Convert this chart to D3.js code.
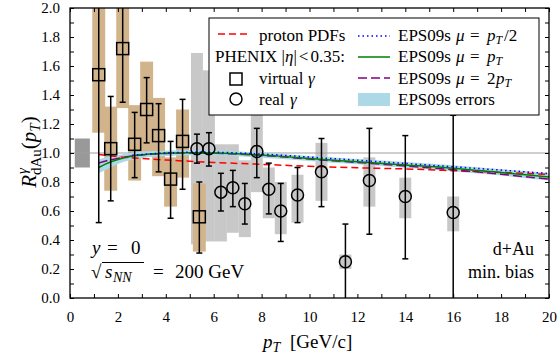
<!DOCTYPE html>
<html><head><meta charset="utf-8">
<script src="https://cdn.jsdelivr.net/npm/d3@7"></script>
<style>body{margin:0;background:#fff}svg{display:block}svg text{font-family:"Liberation Serif","Times New Roman",Times,serif !important;fill:#000}</style>
</head><body>
<svg id="c" width="558" height="354" font-family="Liberation Serif"></svg>
<script>
// ---- data ----
const virtualPt = [1.2,1.7,2.2,2.7,3.2,3.7,4.2,4.7,5.4];
const virtualR = [1.54,1.03,1.72,1.06,1.30,1.12,0.82,1.08,0.56];
const virtualStatLo = [0.52,0.67,1.35,0.83,1.07,0.87,0.55,0.75,0.31];
const virtualStatHi = [2.3,1.39,2.3,1.28,1.52,1.34,1.08,1.37,0.80];
const virtualSysLo = [1.14,0.74,1.31,0.81,0.98,0.84,0.63,0.83,0.32];
const virtualSysHi = [2.05,1.32,2.05,1.33,1.63,1.38,0.97,1.30,0.79];

const realPt = [5.3,5.8,6.3,6.8,7.3,7.8,8.3,8.8,9.5,10.5,11.5,12.5,14,16];
const realR = [1.03,1.03,0.73,0.76,0.65,1.01,0.75,0.60,0.71,0.87,0.25,0.81,0.70,0.59];
const realStatLo = [0.93,0.91,0.60,0.63,0.51,0.83,0.58,0.39,0.52,0.63,-0.2,0.44,0.27,-0.2];
const realStatHi = [1.13,1.14,0.86,0.88,0.79,1.17,0.93,0.79,0.90,1.10,0.51,1.17,1.12,1.26];
const realSysLo = [0.37,0.39,0.39,0.45,0.42,0.73,0.55,0.44,0.52,0.67,0.20,0.63,0.55,0.46];
const realSysHi = [1.69,1.57,1.06,1.06,0.95,1.40,0.90,0.80,0.85,1.07,0.30,0.97,0.83,0.70];

const normBox = {ptLo:0.2, ptHi:0.83, lo:0.90, hi:1.10};

const protonPt = [1.2,2,3,4,5,6,8,10,12,14,16,18,20];
const protonR  = [0.99,0.975,0.962,0.952,0.943,0.935,0.922,0.908,0.898,0.89,0.878,0.866,0.852];

const eps1Pt = [1.2,1.5,2,2.5,3,4,5,6,7,8,9,10,12,14,16,18,20];
const eps1R  = [0.90,0.925,0.955,0.975,0.988,0.998,1.002,1.0,0.995,0.985,0.975,0.962,0.94,0.918,0.895,0.865,0.835];
const eps2R  = [0.93,0.945,0.963,0.977,0.987,0.997,1.0,0.998,0.993,0.983,0.972,0.958,0.935,0.91,0.885,0.853,0.82];

const epsHalfPt = [2.6,3,4,5,6,7,8,9,10,12,14,16,18,20];
const epsHalfR  = [0.985,0.99,1.0,1.005,1.005,1.0,0.993,0.983,0.972,0.95,0.928,0.905,0.882,0.858];

const bandPt = [1.2,1.5,2,3,4,5,6,8,10,12,14,16,18,20];
const bandLo = [0.86,0.885,0.925,0.965,0.98,0.985,0.985,0.968,0.945,0.922,0.898,0.873,0.845,0.81];
const bandHi = [0.955,0.97,0.985,1.01,1.015,1.02,1.018,1.002,0.98,0.958,0.938,0.915,0.888,0.862];

const xTickLabels = [0,2,4,6,8,10,12,14,16,18,20];
const yTickLabels = ["0.0","0.2","0.4","0.6","0.8","1.0","1.2","1.4","1.6","1.8","2.0"];

// ---- layout ----
const svg = d3.select("#c");
const L=70, R=549, T=8, B=298;
const x = d3.scaleLinear().domain([0,20]).range([L,R]);
const y = d3.scaleLinear().domain([0,2]).range([B,T]);

svg.append("defs").append("clipPath").attr("id","clip")
  .append("rect").attr("x",L).attr("y",T).attr("width",R-L).attr("height",B-T);
const g = svg.append("g").attr("clip-path","url(#clip)");

g.append("rect").attr("x",x(normBox.ptLo)).attr("width",x(normBox.ptHi)-x(normBox.ptLo))
  .attr("y",y(normBox.hi)).attr("height",y(normBox.lo)-y(normBox.hi)).attr("fill","#999");

realPt.forEach((p,i)=>{
  g.append("rect").attr("x",x(p-0.25)).attr("width",x(p+0.25)-x(p-0.25))
   .attr("y",y(realSysHi[i])).attr("height",y(realSysLo[i])-y(realSysHi[i])).attr("fill","#c8c8c8");
});
virtualPt.forEach((p,i)=>{
  g.append("rect").attr("x",x(p-0.27)).attr("width",x(p+0.27)-x(p-0.27))
   .attr("y",y(virtualSysHi[i])).attr("height",y(virtualSysLo[i])-y(virtualSysHi[i])).attr("fill","#d2b48c");
});

g.append("line").attr("x1",x(0)).attr("x2",x(20)).attr("y1",y(1)).attr("y2",y(1)).attr("stroke","#a0a0a0").attr("stroke-width",1.2);

const area = d3.area().x((d,i)=>x(bandPt[i])).y0((d,i)=>y(bandLo[i])).y1((d,i)=>y(bandHi[i])).curve(d3.curveMonotoneX);
g.append("path").attr("d",area(bandPt)).attr("fill","#add8e6");

const line = (pts,vals)=>d3.line().x((d,i)=>x(pts[i])).y((d,i)=>y(vals[i])).curve(d3.curveMonotoneX)(pts);
g.append("path").attr("d",line(protonPt,protonR)).attr("fill","none").attr("stroke","#ff0000").attr("stroke-width",1.5).attr("stroke-dasharray","7,4");
g.append("path").attr("d",line(eps1Pt,eps2R)).attr("fill","none").attr("stroke","#800080").attr("stroke-width",1.5).attr("stroke-dasharray","9,4");
g.append("path").attr("d",line(eps1Pt,eps1R)).attr("fill","none").attr("stroke","#008000").attr("stroke-width",1.5);
g.append("path").attr("d",line(epsHalfPt,epsHalfR)).attr("fill","none").attr("stroke","#0000ff").attr("stroke-width",1.5).attr("stroke-dasharray","1.5,3");

function errBars(pts,lo,hi){
  pts.forEach((p,i)=>{
    g.append("line").attr("x1",x(p)).attr("x2",x(p)).attr("y1",y(lo[i])).attr("y2",y(hi[i])).attr("stroke","#000").attr("stroke-width",1.5);
    [lo[i],hi[i]].forEach(v=>g.append("line").attr("x1",x(p)-3).attr("x2",x(p)+3).attr("y1",y(v)).attr("y2",y(v)).attr("stroke","#000").attr("stroke-width",1.5));
  });
}
errBars(virtualPt,virtualStatLo,virtualStatHi);
errBars(realPt,realStatLo,realStatHi);
virtualPt.forEach((p,i)=>{
  g.append("rect").attr("x",x(p)-6).attr("y",y(virtualR[i])-6).attr("width",12).attr("height",12)
   .attr("fill","none").attr("stroke","#000").attr("stroke-width",1.5);
});
realPt.forEach((p,i)=>{
  g.append("circle").attr("cx",x(p)).attr("cy",y(realR[i])).attr("r",6)
   .attr("fill","none").attr("stroke","#000").attr("stroke-width",1.5);
});

// axes
const xAxB = d3.axisBottom(x).tickValues(d3.range(0,21,1)).tickSize(-4).tickFormat(d=>xTickLabels.includes(d)?d:"").tickPadding(13);
const xAxT = d3.axisTop(x).tickValues(d3.range(0,21,1)).tickSize(-4).tickFormat("");
const yAxL = d3.axisLeft(y).tickValues(d3.range(0,2.01,0.1)).tickSize(-4).tickFormat(d=>{const k=Math.round(d*10);return k%2===0?yTickLabels[k/2]:"";}).tickPadding(10);
const yAxR = d3.axisRight(y).tickValues(d3.range(0,2.01,0.1)).tickSize(-4).tickFormat("");
function style(sel){sel.attr("font-family","Liberation Serif");sel.select(".domain").remove();sel.selectAll("line").attr("stroke","#000").attr("stroke-width",1);sel.selectAll("text").style("font-size","15px");}
svg.append("g").attr("transform",`translate(0,${B})`).call(xAxB).call(style);
svg.append("g").attr("transform",`translate(0,${T})`).call(xAxT).call(style);
svg.append("g").attr("transform",`translate(${L},0)`).call(yAxL).call(style);
svg.append("g").attr("transform",`translate(${R},0)`).call(yAxR).call(style);
svg.append("rect").attr("x",L).attr("y",T).attr("width",R-L).attr("height",B-T).attr("fill","none").attr("stroke","#000").attr("stroke-width",1.3);

// axis titles
const xt = svg.append("text").attr("y",348).style("font-size","19px");
xt.append("tspan").attr("x",263).attr("font-style","italic").text("p");
xt.append("tspan").attr("font-style","italic").attr("font-size","14px").attr("dy",4).text("T");
xt.append("tspan").attr("x",290).attr("dy",-4).text("[GeV/c]");

const yt = svg.append("text").attr("transform","translate(36,152) rotate(-90)").attr("text-anchor","middle").style("font-size","21px");
yt.append("tspan").attr("font-style","italic").text("R");
yt.append("tspan").attr("font-style","italic").attr("font-size","15px").attr("dy",-9).attr("dx",1).text("γ");
yt.append("tspan").attr("font-size","15px").attr("dy",14).attr("dx",-7).text("dAu");
yt.append("tspan").attr("dy",-5).text("(");
yt.append("tspan").attr("font-style","italic").text("p");
yt.append("tspan").attr("font-style","italic").attr("font-size","15px").attr("dy",4).text("T");
yt.append("tspan").attr("dy",-4).text(")");

// corner texts
const cfs="19px";
const t1 = svg.append("text").attr("y",254).style("font-size",cfs);
t1.append("tspan").attr("x",92).attr("font-style","italic").text("y");
t1.append("tspan").attr("x",107).text("=");
t1.append("tspan").attr("x",131).text("0");
const t2 = svg.append("text").attr("y",278).style("font-size",cfs);
t2.append("tspan").attr("x",91).text("√");
t2.append("tspan").attr("x",105).attr("font-style","italic").text("s");
t2.append("tspan").attr("x",113).attr("font-style","italic").attr("font-size","14px").attr("dy",4).text("NN");
t2.append("tspan").attr("x",153).attr("dy",-4).text("=");
t2.append("tspan").attr("x",175).text("200 GeV");
svg.append("line").attr("x1",102).attr("x2",144).attr("y1",262.5).attr("y2",262.5).attr("stroke","#000").attr("stroke-width",1);
svg.append("text").attr("x",534).attr("y",255).attr("text-anchor","end").style("font-size","18px").text("d+Au");
svg.append("text").attr("x",534).attr("y",278).attr("text-anchor","end").style("font-size","18px").text("min. bias");

// legend
const lg = svg.append("g");
lg.append("rect").attr("x",209).attr("y",18).attr("width",330).attr("height",97).attr("fill","#fff").attr("stroke","#000").attr("stroke-width",1);
const fs="17px";
lg.append("line").attr("x1",218).attr("x2",251).attr("y1",34).attr("y2",34).attr("stroke","#ff0000").attr("stroke-width",1.5).attr("stroke-dasharray","7,4");
lg.append("text").attr("x",259).attr("y",41).style("font-size",fs).text("proton PDFs");
const ph = lg.append("text").attr("y",62).style("font-size",fs);
ph.append("tspan").attr("x",215).text("PHENIX |");
ph.append("tspan").attr("font-style","italic").text("η");
ph.append("tspan").text("|");
ph.append("tspan").attr("dx",2).text("<");
ph.append("tspan").attr("dx",2).text("0.35:");
lg.append("rect").attr("x",230).attr("y",73).attr("width",12).attr("height",12).attr("fill","none").attr("stroke","#000").attr("stroke-width",1.5);
const vg = lg.append("text").attr("y",84).style("font-size",fs);
vg.append("tspan").attr("x",259).text("virtual");
vg.append("tspan").attr("x",308).attr("font-style","italic").text("γ");
lg.append("circle").attr("cx",236).attr("cy",99).attr("r",6).attr("fill","none").attr("stroke","#000").attr("stroke-width",1.5);
const rg = lg.append("text").attr("y",105).style("font-size",fs);
rg.append("tspan").attr("x",259).text("real");
rg.append("tspan").attr("x",290).attr("font-style","italic").text("γ");

lg.append("line").attr("x1",358).attr("x2",390).attr("y1",36).attr("y2",36).attr("stroke","#0000ff").attr("stroke-width",1.5).attr("stroke-dasharray","1.5,3");
lg.append("line").attr("x1",358).attr("x2",390).attr("y1",57).attr("y2",57).attr("stroke","#008000").attr("stroke-width",1.5);
lg.append("line").attr("x1",358).attr("x2",390).attr("y1",78).attr("y2",78).attr("stroke","#800080").attr("stroke-width",1.5).attr("stroke-dasharray","9,4");
lg.append("rect").attr("x",358).attr("y",93).attr("width",32).attr("height",13).attr("fill","#add8e6");
function epsText(yy,pre,suffix){
  const t = lg.append("text").attr("y",yy).style("font-size",fs);
  t.append("tspan").attr("x",398).text("EPS09s");
  t.append("tspan").attr("x",456).attr("font-style","italic").text("μ");
  t.append("tspan").attr("x",470).text("=");
  let px = 487;
  if(pre){ t.append("tspan").attr("x",px).text(pre); px += 9; }
  t.append("tspan").attr("x",px).attr("font-style","italic").text("p");
  t.append("tspan").attr("x",px+8.5).attr("font-style","italic").attr("font-size","12px").attr("dy",3).text("T");
  if(suffix) t.append("tspan").attr("x",px+17).attr("dy",-3).text(suffix);
}
epsText(41,"","/2");
epsText(62,"","");
epsText(84,"2","");
lg.append("text").attr("x",398).attr("y",105).style("font-size",fs).text("EPS09s errors");
</script>
</body></html>
